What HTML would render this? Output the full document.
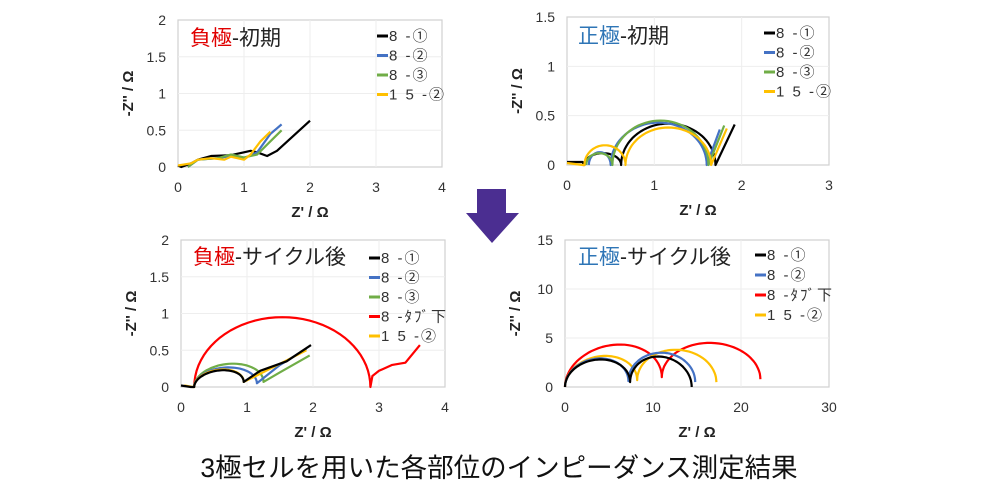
<!DOCTYPE html>
<html><head><meta charset="utf-8"><style>
body{margin:0;background:#fff;width:1000px;height:493px;overflow:hidden}
svg{font-family:"Liberation Sans","Noto Sans CJK JP",sans-serif}
</style></head><body>
<svg id="s" width="1000" height="493" viewBox="0 0 1000 493" xmlns="http://www.w3.org/2000/svg">
<polygon points="477,189 506,189 506,213 519,213 492,243 466,213 477,213" fill="#4b2e91"/>
<text x="499" y="477" font-size="26.5" text-anchor="middle" fill="#111">3極セルを用いた各部位のインピーダンス測定結果</text>
</svg>
<script>
var S=document.getElementById('s'),NS='http://www.w3.org/2000/svg';
function el(t,a,txt){var e=document.createElementNS(NS,t);for(var k in a)e.setAttribute(k,a[k]);if(txt!==undefined)e.textContent=txt;S.appendChild(e);return e;}
var C={k:'#000',b:'#4472c4',g:'#70ad47',y:'#ffc000',r:'#ff0000'};
function arc(a,b,h,e0,e1){var p=[];e0=e0||0;e1=e1||0;for(var i=0;i<=40;i++){var t=Math.PI*i/40;var x=a+(b-a)*(1-Math.cos(t))/2;var f=(1-Math.cos(t))/2;var y=h*Math.sin(t)+e0*(1-f)+e1*f;p.push([x,y]);}return p;}
function chart(o){
 var X=function(v){return o.x0+(o.x1-o.x0)*v/o.xm},Y=function(v){return o.y0-(o.y0-o.y1)*v/o.ym};
 el('rect',{x:o.x0,y:o.y1,width:o.x1-o.x0,height:o.y0-o.y1,fill:'none',stroke:'#d0d0d0','stroke-width':1.2});
 o.xt.forEach(function(v){var x=X(v);if(v>0&&v<o.xm)el('line',{x1:x,x2:x,y1:o.y1,y2:o.y0,stroke:'#eee'});el('text',{x:x,y:o.y0+25,'font-size':14,'text-anchor':'middle',fill:'#333'},v);});
 o.yt.forEach(function(v){var y=Y(v);if(v>0&&v<o.ym)el('line',{x1:o.x0,x2:o.x1,y1:y,y2:y,stroke:'#eee'});el('text',{x:o.x0-12,y:y+5,'font-size':14,'text-anchor':'end',fill:'#333'},v);});
 el('text',{x:(o.x0+o.x1)/2,y:o.y0+50,'font-size':15,'font-weight':'bold','text-anchor':'middle',fill:'#222'},"Z' / Ω");
 var ly=(o.y0+o.y1)/2;el('text',{x:o.x0-45,y:ly,'font-size':15,'font-weight':'bold','text-anchor':'middle',fill:'#222',transform:'rotate(-90 '+(o.x0-45)+' '+ly+')'},"-Z'' / Ω");
 o.series.forEach(function(s){var d=s[1].map(function(p,i){return (i?'L':'M')+X(p[0]).toFixed(1)+','+Y(p[1]).toFixed(1)}).join('');el('path',{d:d,fill:'none',stroke:C[s[0]],'stroke-width':2.2,'stroke-linejoin':'round'});});
 var t=el('text',{x:o.tx,y:o.ty,'font-size':21,fill:'#222'});var a=document.createElementNS(NS,'tspan');a.setAttribute('fill',o.tc);a.textContent=o.t1;t.appendChild(a);t.appendChild(document.createTextNode(o.t2));
 o.leg.forEach(function(l,i){var y=o.ly+i*o.ld;el('line',{x1:o.lx,x2:o.lx+11,y1:y,y2:y,stroke:C[l[0]],'stroke-width':3});el('text',{x:o.lx+12,y:y+5,'font-size':15,fill:'#333','letter-spacing':2},l[1]);});
}
function cat(){var r=[];for(var i=0;i<arguments.length;i++)r=r.concat(arguments[i]);return r;}
chart({x0:178,x1:442,y0:167,y1:20,xm:4,ym:2,xt:[0,1,2,3,4],yt:[0,0.5,1,1.5,2],tx:190,ty:45,tc:'#e00000',t1:'負極',t2:'-初期',lx:377,ly:36,ld:19.5,
 leg:[['k','8 -①'],['b','8 -②'],['g','8 -③'],['y','1 5 -②']],
 series:[['k',[[0,0.02],[0.05,0],[0.2,0.05],[0.3,0.1],[0.5,0.15],[0.8,0.16],[1.0,0.2],[1.1,0.22],[1.2,0.2],[1.35,0.15],[1.5,0.22],[2.0,0.63]]],
 ['b',[[0.15,0],[0.3,0.1],[0.6,0.12],[0.8,0.15],[1.0,0.12],[1.2,0.2],[1.4,0.45],[1.57,0.58]]],
 ['g',[[0.15,0],[0.3,0.1],[0.6,0.12],[0.8,0.17],[1.0,0.13],[1.2,0.17],[1.4,0.35],[1.57,0.5]]],
 ['y',[[0,0.02],[0.2,0.05],[0.3,0.1],[0.5,0.12],[0.7,0.1],[0.8,0.14],[1.0,0.1],[1.1,0.17],[1.25,0.35],[1.4,0.48]]]]});
chart({x0:567,x1:829,y0:165,y1:17,xm:3,ym:1.5,xt:[0,1,2,3],yt:[0,0.5,1,1.5],tx:578,ty:43,tc:'#2e75b6',t1:'正極',t2:'-初期',lx:764,ly:33,ld:19.5,
 leg:[['k','8 -①'],['b','8 -②'],['g','8 -③'],['y','1 5 -②']],
 series:[['k',cat([[0,0.03],[0.18,0.03],[0.19,0]],arc(0.2,0.62,0.12),arc(0.62,1.7,0.42),[[1.92,0.41]])],
 ['b',cat(arc(0.25,0.5,0.13),arc(0.5,1.6,0.43),[[1.75,0.36]])],
 ['g',cat(arc(0.22,0.52,0.12),arc(0.52,1.62,0.45),[[1.8,0.4]])],
 ['y',cat([[0,0.02],[0.18,0]],arc(0.2,0.67,0.2),arc(0.67,1.65,0.38),[[1.83,0.37]])]]});
chart({x0:181,x1:445,y0:387,y1:240,xm:4,ym:2,xt:[0,1,2,3,4],yt:[0,0.5,1,1.5,2],tx:193,ty:264,tc:'#e00000',t1:'負極',t2:'-サイクル後',lx:369,ly:258,ld:19.5,
 leg:[['k','8 -①'],['b','8 -②'],['g','8 -③'],['r','8 -ﾀﾌﾞ下'],['y','1 5 -②']],
 series:[['r',cat(arc(0.2,2.87,0.95),[[2.9,0.15],[3.0,0.22],[3.2,0.3],[3.4,0.33],[3.62,0.57]])],
 ['g',cat(arc(0.2,1.25,0.28,0,0.07),[[1.5,0.2],[1.95,0.43]])],
 ['b',cat(arc(0.2,1.15,0.24,0,0.05),[[1.5,0.3],[1.9,0.52]])],
 ['y',cat([[0.05,0.02],[0.18,0]],arc(0.2,0.95,0.2,0,0.07),[[1.2,0.18],[1.9,0.5]])],
 ['k',cat([[0,0.02],[0.15,0]],arc(0.2,0.95,0.19,0,0.07),[[1.2,0.22],[1.6,0.35],[1.97,0.57]])]]});
chart({x0:565,x1:829,y0:387,y1:240,xm:30,ym:15,xt:[0,10,20,30],yt:[0,5,10,15],tx:578,ty:264,tc:'#2e75b6',t1:'正極',t2:'-サイクル後',lx:755,ly:255,ld:20,
 leg:[['k','8 -①'],['b','8 -②'],['r','8 -ﾀﾌﾞ下'],['y','1 5 -②']],
 series:[['r',cat(arc(0,11,3.8,0,1),arc(11,22.2,3.6,1,0.8))],
 ['y',cat(arc(0,8.2,2.8,0,0.7),arc(8.2,17.2,3.2,0.7,0.5))],
 ['b',cat(arc(0,7.2,2.6,0,0.6),arc(7.2,14.8,2.95,0.6,0.5))],
 ['k',cat(arc(0,7.4,2.55,0,0.5),arc(7.4,14.4,2.85,0.5,0))]]});
</script>
</body></html>
